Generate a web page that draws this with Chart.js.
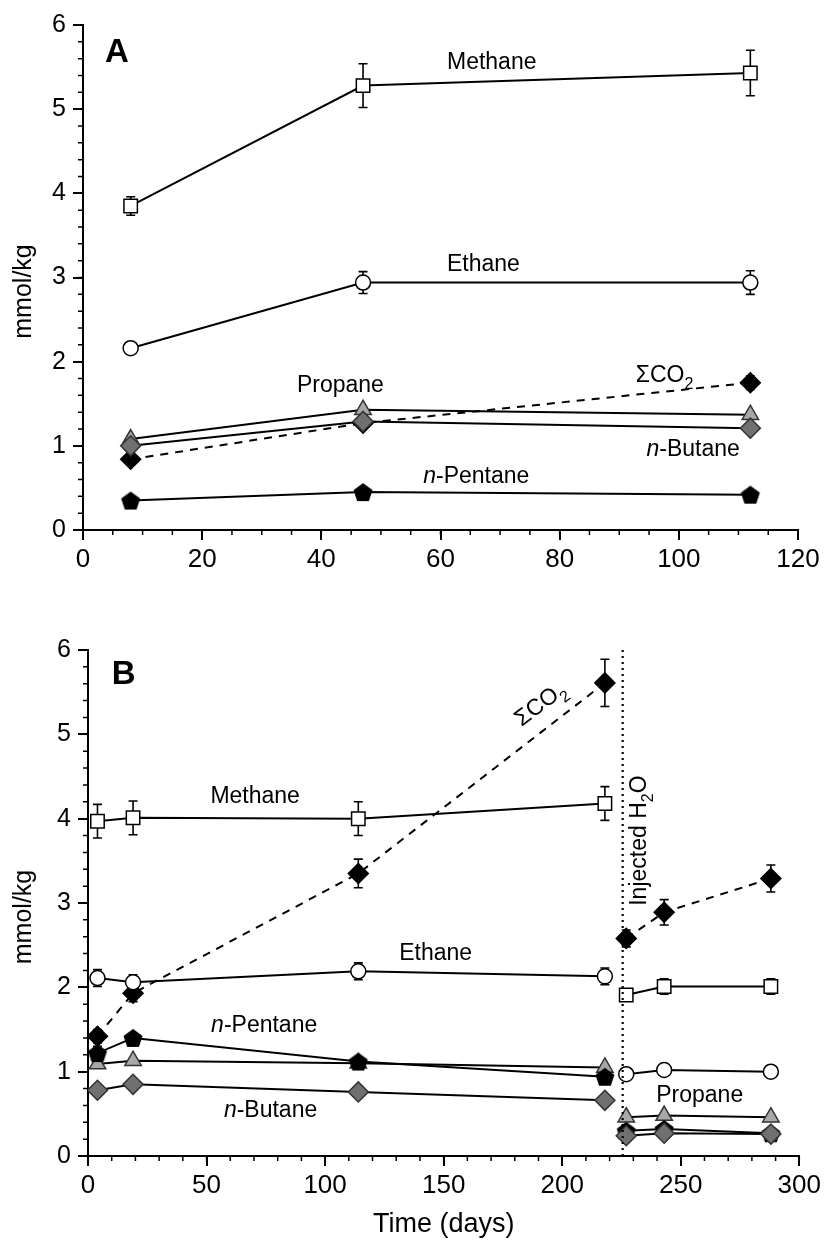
<!DOCTYPE html>
<html>
<head>
<meta charset="utf-8">
<script src="https://cdn.jsdelivr.net/npm/chart.js@4.4.1/dist/chart.umd.min.js"></script>
<style>
  html, body { margin: 0; padding: 0; background: #fff; }
  .panel { position: relative; width: 825px; }
  #panelA { height: 600px; }
  #panelB { height: 645px; }
</style>
</head>
<body>
<div class="panel" id="panelA"><canvas id="chartA"></canvas></div>
<div class="panel" id="panelB"><canvas id="chartB"></canvas></div>
<script>
// --- Panel A (days since start) ---
const daysA = [8, 47, 112];
const methaneA = [3.85, 5.28, 5.43];
const methaneErrA = [0.11, 0.26, 0.27];
const ethaneA = [2.16, 2.94, 2.94];
const ethaneErrA = [0.05, 0.13, 0.14];
const propaneA = [1.08, 1.43, 1.37];
const butaneA = [1.00, 1.29, 1.21];
const pentaneA = [0.35, 0.45, 0.42];
const co2A = [0.84, 1.27, 1.75];
const co2ErrA = [0.06, 0, 0.08];

// --- Panel B (days since start, water injected at day ~225) ---
const daysB = [4, 19, 114, 218, 227, 243, 288];
const injectionDay = 225.5;
const methaneB = [3.97, 4.01, 4.00, 4.18, 1.91, 2.01, 2.01];
const methaneErrB = [0.2, 0.2, 0.2, 0.2, 0.07, 0.09, 0.09];
const ethaneB = [2.11, 2.06, 2.19, 2.13, 0.97, 1.02, 1.00];
const ethaneErrB = [0.1, 0.09, 0.1, 0.1, 0, 0, 0];
const propaneB = [1.09, 1.13, 1.10, 1.05, 0.46, 0.48, 0.46];
const butaneB = [0.78, 0.85, 0.76, 0.66, 0.24, 0.27, 0.26];
const pentaneB = [1.22, 1.40, 1.12, 0.94, 0.30, 0.32, 0.27];
const pentaneErrB = [0.08, 0.05, 0, 0, 0, 0, 0];
const co2B = [1.42, 1.93, 3.35, 5.61, 2.58, 2.89, 3.29];
const co2ErrB = [0.08, 0.1, 0.17, 0.28, 0.1, 0.15, 0.16];

const yTicks = [0, 1, 2, 3, 4, 5, 6];
const FONT = "'Liberation Sans', Arial, sans-serif";

// filled pentagon used as a point style
function pentagon(r) {
  const s = Math.ceil(r * 2 + 4);
  const c = document.createElement('canvas');
  c.width = s; c.height = s;
  const g = c.getContext('2d');
  g.beginPath();
  for (let i = 0; i < 5; i++) {
    const a = -Math.PI / 2 + i * 2 * Math.PI / 5;
    const px = s / 2 + r * Math.cos(a), py = s / 2 + 1 + r * Math.sin(a);
    if (i) g.lineTo(px, py); else g.moveTo(px, py);
  }
  g.closePath();
  g.fillStyle = '#000';
  g.fill();
  return c;
}
const pentImg = pentagon(10);

const styles = {
  methane: { pointStyle: 'rect', pointRadius: 9.5, pointBackgroundColor: '#fff', pointBorderColor: '#000' },
  ethane: { pointStyle: 'circle', pointRadius: 7.5, pointBackgroundColor: '#fff', pointBorderColor: '#000' },
  propane: { pointStyle: 'triangle', pointRadius: 9.5, pointBackgroundColor: '#a8a8a8', pointBorderColor: '#333' },
  butane: { pointStyle: 'rectRot', pointRadius: 10, pointBackgroundColor: '#707070', pointBorderColor: '#333' },
  pentane: { pointStyle: pentImg, pointRadius: 10, pointBackgroundColor: '#000', pointBorderColor: '#000' },
  co2: { pointStyle: 'rectRot', pointRadius: 10, pointBackgroundColor: '#000', pointBorderColor: '#000', borderDash: [8, 7] }
};

function series(label, xs, ys, errs, style, breakAt) {
  const ds = Object.assign({
    label,
    data: xs.map((x, i) => ({ x, y: ys[i] })),
    errors: errs || null,
    borderColor: '#000',
    borderWidth: 2,
    pointBorderWidth: 1.5,
    fill: false,
    tension: 0
  }, style);
  if (breakAt !== undefined) {
    ds.segment = {
      borderColor: c => (c.p0.parsed.x < breakAt && c.p1.parsed.x > breakAt) ? 'rgba(0,0,0,0)' : '#000'
    };
  }
  return ds;
}

// vertical error bars, drawn under the markers
const errorBars = {
  id: 'errorBars',
  beforeDatasetsDraw(chart) {
    const { ctx, scales: { x, y } } = chart;
    ctx.save();
    ctx.strokeStyle = '#000';
    ctx.lineWidth = 1.6;
    chart.data.datasets.forEach(ds => {
      if (!ds.errors) return;
      ds.data.forEach((p, i) => {
        const e = ds.errors[i];
        if (!e) return;
        const px = x.getPixelForValue(p.x);
        const top = y.getPixelForValue(p.y + e), bot = y.getPixelForValue(p.y - e);
        ctx.beginPath();
        ctx.moveTo(px, top); ctx.lineTo(px, bot);
        ctx.moveTo(px - 4.5, top); ctx.lineTo(px + 4.5, top);
        ctx.moveTo(px - 4.5, bot); ctx.lineTo(px + 4.5, bot);
        ctx.stroke();
      });
    });
    ctx.restore();
  }
};

// short unlabelled ticks between the major ones
const minorTicks = {
  id: 'minorTicks',
  afterDraw(chart, args, opts) {
    const { ctx, chartArea, scales: { x, y } } = chart;
    ctx.save();
    ctx.strokeStyle = '#000';
    ctx.lineWidth = 1.5;
    ctx.beginPath();
    const nx = Math.round((x.max - x.min) / opts.x);
    for (let i = 0; i <= nx; i++) {
      const px = x.getPixelForValue(x.min + i * opts.x);
      ctx.moveTo(px, chartArea.bottom); ctx.lineTo(px, chartArea.bottom + 5);
    }
    const ny = Math.round((y.max - y.min) / opts.y);
    for (let i = 0; i <= ny; i++) {
      const py = y.getPixelForValue(y.min + i * opts.y);
      ctx.moveTo(chartArea.left - 5, py); ctx.lineTo(chartArea.left, py);
    }
    ctx.stroke();
    ctx.restore();
  }
};

// rich text: parts with optional italic / subscript
function drawRich(ctx, parts, size, bold) {
  const weight = bold ? 'bold ' : '';
  const fontFor = p => (p.italic ? 'italic ' : '') + weight + (p.sub ? Math.round(size * 0.68) : size) + 'px ' + FONT;
  let total = 0;
  parts.forEach(p => { ctx.font = fontFor(p); p.w = ctx.measureText(p.t).width; total += p.w; });
  let cx = -total / 2;
  const base = size * 0.716 / 2;
  parts.forEach(p => {
    ctx.font = fontFor(p);
    ctx.fillText(p.t, cx, base + (p.sub ? size * 0.3 : 0));
    cx += p.w;
  });
}

const annotations = {
  id: 'annotations',
  afterDatasetsDraw(chart, args, opts) {
    const { ctx, chartArea, scales: { x, y } } = chart;
    ctx.save();
    if (opts.marker !== undefined) {
      const px = x.getPixelForValue(opts.marker);
      ctx.strokeStyle = '#000';
      ctx.lineWidth = 2.2;
      ctx.setLineDash([2, 4]);
      ctx.beginPath();
      ctx.moveTo(px, chartArea.top); ctx.lineTo(px, chartArea.bottom);
      ctx.stroke();
      ctx.setLineDash([]);
    }
    ctx.fillStyle = '#000';
    ctx.textBaseline = 'alphabetic';
    ctx.textAlign = 'left';
    // y-axis title, sitting a little below the axis middle
    ctx.save();
    ctx.translate(22, (chartArea.top + chartArea.bottom) / 2 + 14);
    ctx.rotate(-Math.PI / 2);
    drawRich(ctx, [{ t: 'mmol/kg' }], 25);
    ctx.restore();
    opts.labels.forEach(l => {
      ctx.save();
      ctx.translate(x.getPixelForValue(l.x), y.getPixelForValue(l.y));
      if (l.rot) ctx.rotate(l.rot * Math.PI / 180);
      drawRich(ctx, l.parts.map(p => Object.assign({}, p)), l.size || 23, l.bold);
      ctx.restore();
    });
    ctx.restore();
  }
};

function axes(xMax, xStep, xTitle, xHeight, yWidth) {
  return {
    x: {
      type: 'linear', min: 0, max: xMax,
      ticks: { stepSize: xStep, color: '#000', font: { family: FONT, size: 26 }, padding: 4, maxRotation: 0 },
      grid: { drawOnChartArea: false, drawTicks: true, tickLength: 10, color: '#000', lineWidth: 2 },
      border: { color: '#000', width: 2 },
      title: xTitle ? { display: true, text: xTitle, color: '#000', font: { family: FONT, size: 27 }, padding: { top: 6 } } : { display: false },
      afterFit: s => { s.height = xHeight; }
    },
    y: {
      min: 0, max: 6,
      afterBuildTicks: s => { s.ticks = yTicks.map(v => ({ value: v })); },
      ticks: { color: '#000', font: { family: FONT, size: 25 }, padding: 7 },
      grid: { drawOnChartArea: false, drawTicks: true, tickLength: 10, color: '#000', lineWidth: 2 },
      border: { color: '#000', width: 2 },
      title: { display: false },
      afterFit: s => { s.width = yWidth; }
    }
  };
}

const it = t => ({ t, italic: true });
const tx = t => ({ t });
const sub = t => ({ t, sub: true });

new Chart(document.getElementById('chartA'), {
  type: 'line',
  data: {
    datasets: [
      series('Methane', daysA, methaneA, methaneErrA, styles.methane),
      series('Ethane', daysA, ethaneA, ethaneErrA, styles.ethane),
      series('n-Butane', daysA, butaneA, null, styles.butane),
      series('n-Pentane', daysA, pentaneA, null, styles.pentane),
      series('Propane', daysA, propaneA, null, styles.propane),
      series('ΣCO2', daysA, co2A, co2ErrA, styles.co2)
    ]
  },
  options: {
    responsive: true,
    maintainAspectRatio: false,
    animation: false,
    events: [],
    layout: { padding: { top: 25, right: 27, left: 0, bottom: 0 } },
    scales: axes(120, 20, null, 70, 83),
    plugins: {
      legend: { display: false },
      tooltip: { enabled: false },
      minorTicks: { x: 5, y: 0.2 },
      annotations: {
        labels: [
          { x: 5.7, y: 5.7, parts: [tx('A')], size: 33, bold: true },
          { x: 68.6, y: 5.58, parts: [tx('Methane')] },
          { x: 67.2, y: 3.18, parts: [tx('Ethane')] },
          { x: 43.2, y: 1.74, parts: [tx('Propane')] },
          { x: 97.6, y: 1.86, parts: [tx('ΣCO'), sub('2')] },
          { x: 102.4, y: 0.98, parts: [it('n'), tx('-Butane')] },
          { x: 66, y: 0.66, parts: [it('n'), tx('-Pentane')] }
        ]
      }
    }
  },
  plugins: [errorBars, minorTicks, annotations]
});

new Chart(document.getElementById('chartB'), {
  type: 'line',
  data: {
    datasets: [
      series('Methane', daysB, methaneB, methaneErrB, styles.methane, injectionDay),
      series('Ethane', daysB, ethaneB, ethaneErrB, styles.ethane, injectionDay),
      series('n-Butane', daysB, butaneB, null, styles.butane, injectionDay),
      series('n-Pentane', daysB, pentaneB, pentaneErrB, styles.pentane, injectionDay),
      series('Propane', daysB, propaneB, null, styles.propane, injectionDay),
      series('ΣCO2', daysB, co2B, co2ErrB, styles.co2, injectionDay)
    ]
  },
  options: {
    responsive: true,
    maintainAspectRatio: false,
    animation: false,
    events: [],
    layout: { padding: { top: 50, right: 25, left: 0, bottom: 0 } },
    scales: axes(300, 50, 'Time (days)', 89, 88),
    plugins: {
      legend: { display: false },
      tooltip: { enabled: false },
      minorTicks: { x: 10, y: 0.2 },
      annotations: {
        marker: injectionDay,
        labels: [
          { x: 15, y: 5.74, parts: [tx('B')], size: 33, bold: true },
          { x: 70.5, y: 4.28, parts: [tx('Methane')] },
          { x: 190.4, y: 5.37, parts: [tx('ΣCO'), sub('2')], rot: -37 },
          { x: 146.6, y: 2.42, parts: [tx('Ethane')] },
          { x: 74.3, y: 1.57, parts: [it('n'), tx('-Pentane')] },
          { x: 77, y: 0.56, parts: [it('n'), tx('-Butane')] },
          { x: 258, y: 0.74, parts: [tx('Propane')] },
          { x: 231.7, y: 3.74, parts: [tx('Injected H'), sub('2'), tx('O')], rot: -90 }
        ]
      }
    }
  },
  plugins: [errorBars, minorTicks, annotations]
});
</script>
</body>
</html>
